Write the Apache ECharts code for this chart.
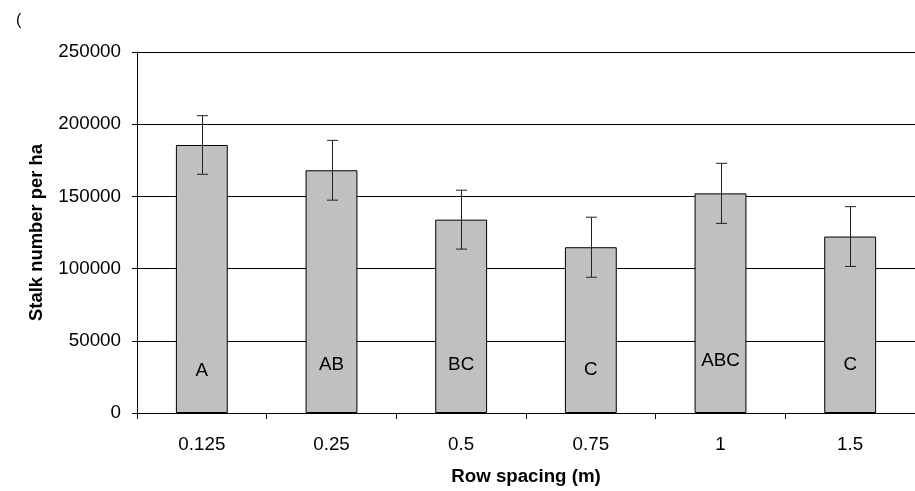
<!DOCTYPE html>
<html><head><meta charset="utf-8">
<script src="https://cdn.jsdelivr.net/npm/echarts@6/dist/echarts.min.js"></script>
<style>html,body{margin:0;padding:0;background:#fff}#c{width:915px;height:491px}</style>
</head><body><div id="c"></div>
<script>
const categories = ['0.125', '0.25', '0.5', '0.75', '1', '1.5'];
const stalks = [185600, 168100, 133900, 114800, 152100, 122200];
const errors = [20300, 20700, 20400, 20800, 20800, 20700];
const letters = ['A', 'AB', 'BC', 'C', 'ABC', 'C'];
const letterY = [29500, 33400, 33400, 30000, 36200, 33400];
const yTicks = [0, 50000, 100000, 150000, 200000, 250000];

const FONT = '"Liberation Sans", Arial, sans-serif';
const chart = echarts.init(document.getElementById('c'));
chart.setOption({
  animation: false,
  backgroundColor: '#fff',
  title: {text: '(', left: 11, top: 8, textStyle: {fontFamily: FONT, fontSize: 16, fontWeight: 'normal', color: '#000'}},
  grid: {left: 137, top: 52, right: -9, bottom: 77, containLabel: false},
  xAxis: {
    type: 'category', data: categories,
    name: 'Row spacing (m)', nameLocation: 'middle', nameGap: 54, nameMoveOverlap: false,
    nameTextStyle: {fontFamily: FONT, fontSize: 18.7, fontWeight: 'bold', color: '#000'},
    axisLine: {lineStyle: {color: '#000', width: 1}},
    axisTick: {show: true, length: 6, lineStyle: {color: '#000'}},
    axisLabel: {fontFamily: FONT, fontSize: 18.8, color: '#000', margin: 22},
    splitLine: {show: false}
  },
  yAxis: {
    type: 'value', min: yTicks[0], max: yTicks[yTicks.length - 1], interval: 50000,
    name: 'Stalk number per ha', nameLocation: 'middle', nameGap: 91, nameMoveOverlap: false,
    nameTextStyle: {fontFamily: FONT, fontSize: 18.4, fontWeight: 'bold', color: '#000'},
    axisLine: {show: true, lineStyle: {color: '#000', width: 1}},
    axisTick: {show: true, length: 5, lineStyle: {color: '#000'}},
    axisLabel: {fontFamily: FONT, fontSize: 18.8, color: '#000', margin: 16, formatter: v => String(v)},
    splitLine: {show: true, lineStyle: {color: '#000', width: 1}}
  },
  series: [
    {
      type: 'bar', data: stalks, barWidth: '40%',
      itemStyle: {color: '#c0c0c0', borderColor: '#000', borderWidth: 1},
      z: 2
    },
    {
      type: 'custom', z: 3,
      data: stalks.map((v, i) => [i, v - errors[i], v + errors[i]]),
      renderItem: function (params, api) {
        const lo = api.coord([api.value(0), api.value(1)]);
        const hi = api.coord([api.value(0), api.value(2)]);
        const x = Math.round(lo[0]) + 0.5, hw = 5.5;
        const st = {stroke: '#222', lineWidth: 1};
        return {type: 'group', children: [
          {type: 'line', shape: {x1: x, y1: hi[1], x2: x, y2: lo[1]}, style: st},
          {type: 'line', shape: {x1: x - hw, y1: hi[1], x2: x + hw, y2: hi[1]}, style: st},
          {type: 'line', shape: {x1: x - hw, y1: lo[1], x2: x + hw, y2: lo[1]}, style: st}
        ]};
      }
    },
    {
      type: 'custom', z: 4,
      data: letters.map((t, i) => [i, letterY[i]]),
      renderItem: function (params, api) {
        const p = api.coord([api.value(0), api.value(1)]);
        return {type: 'text', x: p[0], y: p[1], style: {
          text: letters[params.dataIndex], fontFamily: FONT, fontSize: 18.8, fill: '#000',
          align: 'center', verticalAlign: 'middle'}};
      }
    }
  ]
});
</script></body></html>
